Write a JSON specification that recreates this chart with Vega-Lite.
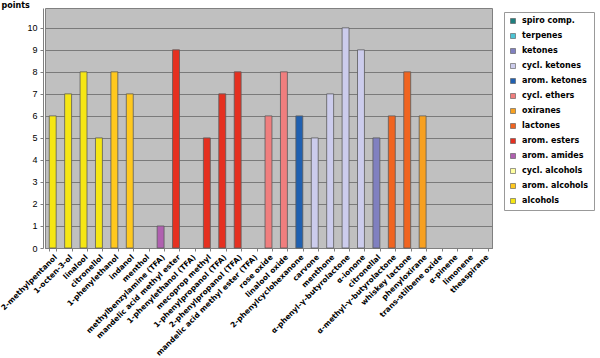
{
  "$schema": "https://vega.github.io/schema/vega-lite/v6.json",
  "width": 447,
  "height": 240,
  "autosize": {"type": "none"},
  "padding": {"left": 45, "top": 8, "right": 108, "bottom": 110},
  "background": "white",
  "config": {
    "view": {"fill": "#c0c0c0", "stroke": "#808080", "strokeWidth": 1}
  },
  "data": {
    "values": [
      {"compound": "2-methylpentanol", "class": "alcohols", "points": 6},
      {"compound": "1-octen-3-ol", "class": "alcohols", "points": 7},
      {"compound": "linalool", "class": "alcohols", "points": 8},
      {"compound": "citronellol", "class": "alcohols", "points": 5},
      {"compound": "1-phenylethanol", "class": "arom. alcohols", "points": 8},
      {"compound": "indanol", "class": "arom. alcohols", "points": 7},
      {"compound": "menthol", "class": "cycl. alcohols", "points": 0},
      {"compound": "methylbenzylamine (TFA)", "class": "arom. amides", "points": 1},
      {"compound": "mandelic acid methyl ester", "class": "arom. esters", "points": 9},
      {"compound": "1-phenylethanol (TFA)", "class": "arom. esters", "points": 0},
      {"compound": "mecoprop methyl", "class": "arom. esters", "points": 5},
      {"compound": "1-phenylpropanol (TFA)", "class": "arom. esters", "points": 7},
      {"compound": "2-phenylpropanol (TFA)", "class": "arom. esters", "points": 8},
      {"compound": "mandelic acid methyl ester (TFA)", "class": "arom. esters", "points": 0},
      {"compound": "rose oxide", "class": "cycl. ethers", "points": 6},
      {"compound": "linalool oxide", "class": "cycl. ethers", "points": 8},
      {"compound": "2-phenylcyclohexanone", "class": "arom. ketones", "points": 6},
      {"compound": "carvone", "class": "cycl. ketones", "points": 5},
      {"compound": "menthone", "class": "cycl. ketones", "points": 7},
      {"compound": "α-phenyl-γ-butyrolactone", "class": "cycl. ketones", "points": 10},
      {"compound": "α-ionone", "class": "cycl. ketones", "points": 9},
      {"compound": "citronellal", "class": "ketones", "points": 5},
      {"compound": "α-methyl-γ-butyrolactone", "class": "lactones", "points": 6},
      {"compound": "whiskey lactone", "class": "lactones", "points": 8},
      {"compound": "phenyloxirane", "class": "oxiranes", "points": 6},
      {"compound": "trans-stilbene oxide", "class": "oxiranes", "points": 0},
      {"compound": "α-pinene", "class": "terpenes", "points": 0},
      {"compound": "limonene", "class": "terpenes", "points": 0},
      {"compound": "theaspirane", "class": "spiro comp.", "points": 0}
    ]
  },
  "mark": {"type": "bar", "stroke": "#5a5a5a", "strokeWidth": 0.8},
  "encoding": {
    "x": {
      "field": "compound",
      "type": "nominal",
      "sort": null,
      "scale": {"paddingInner": 0.55, "paddingOuter": 0.275},
      "axis": {
        "title": null,
        "tickBand": "extent",
        "labelAngle": -45,
        "labelAlign": "right",
        "labelBaseline": "top",
        "labelFont": "DejaVu Sans",
        "labelFontWeight": "bold",
        "labelFontSize": 7.5,
        "labelColor": "#000000",
        "labelPadding": 2,
        "tickSize": 3,
        "tickColor": "#808080",
        "domainColor": "#808080",
        "grid": false
      }
    },
    "y": {
      "field": "points",
      "type": "quantitative",
      "scale": {"domain": [0, 10.9], "nice": false},
      "axis": {
        "values": [0, 1, 2, 3, 4, 5, 6, 7, 8, 9, 10],
        "offset": 2,
        "title": "points",
        "titleAngle": 0,
        "titleAlign": "left",
        "titleBaseline": "middle",
        "titleX": -42,
        "titleY": -3,
        "titleFont": "DejaVu Sans",
        "titleFontWeight": "bold",
        "titleFontSize": 8,
        "titleColor": "#000000",
        "labelFont": "Liberation Sans",
        "labelFontSize": 9,
        "labelColor": "#000000",
        "labelPadding": 3,
        "tickSize": 3,
        "tickColor": "#808080",
        "domainColor": "#808080",
        "grid": true,
        "gridColor": "#7a7a7a",
        "gridOpacity": 1
      }
    },
    "color": {
      "field": "class",
      "type": "nominal",
      "scale": {
        "domain": ["spiro comp.", "terpenes", "ketones", "cycl. ketones", "arom. ketones", "cycl. ethers", "oxiranes", "lactones", "arom. esters", "arom. amides", "cycl. alcohols", "arom. alcohols", "alcohols"],
        "range": ["#1f7f7f", "#4cc4d4", "#8080c0", "#ccccec", "#2060b0", "#f07e7e", "#f7a020", "#f06420", "#e53020", "#b060b0", "#ffffa0", "#ffc81e", "#f5e614"]
      },
      "legend": {
        "orient": "none",
        "legendX": 459,
        "legendY": 4,
        "title": null,
        "symbolType": "square",
        "symbolSize": 25,
        "symbolStrokeColor": "#555555",
        "symbolStrokeWidth": 0.6,
        "symbolOpacity": 1,
        "labelFont": "DejaVu Sans",
        "labelFontWeight": "bold",
        "labelFontSize": 8,
        "labelColor": "#000000",
        "labelOffset": 5,
        "rowPadding": 7,
        "padding": 5,
        "strokeColor": "#999999",
        "fillColor": "#ffffff"
      }
    },
    "strokeOpacity": {"condition": {"test": "datum.points > 0", "value": 1}, "value": 0}
  }
}
